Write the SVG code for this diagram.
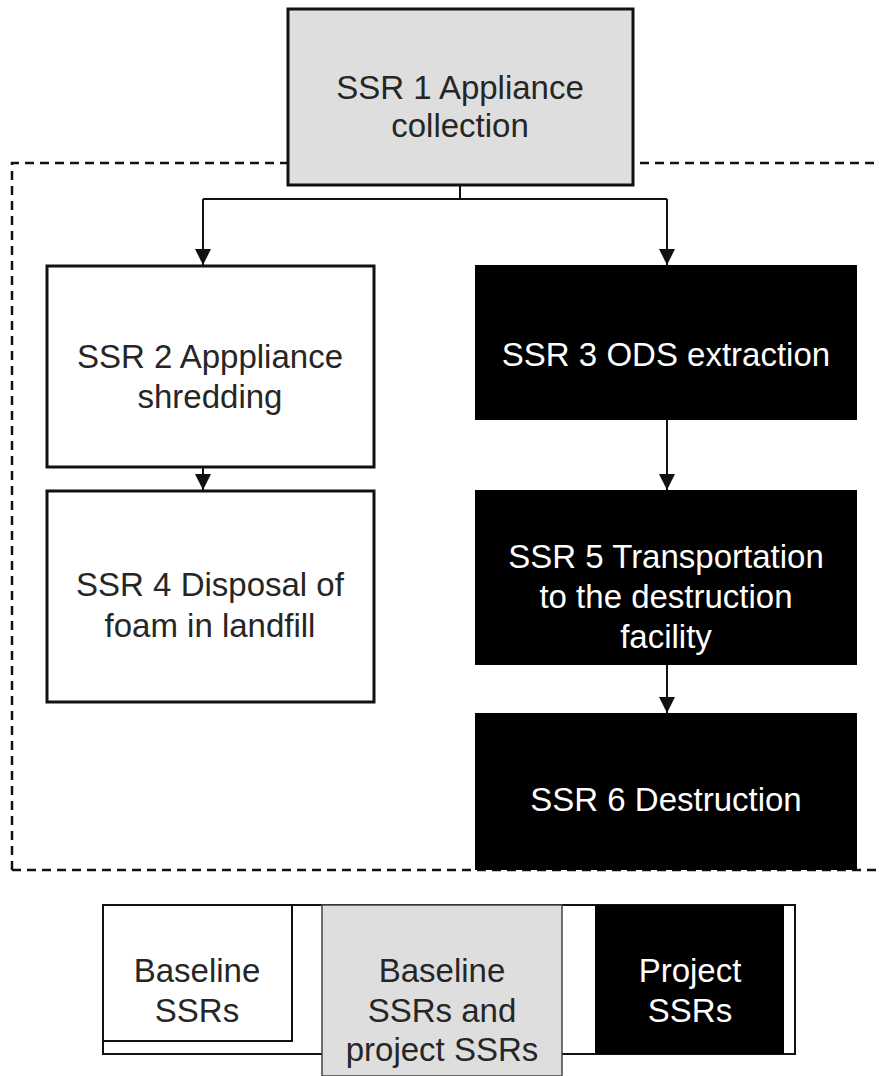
<svg xmlns="http://www.w3.org/2000/svg" width="879" height="1076" viewBox="0 0 879 1076">
<style>
text{font-family:"Liberation Sans",Arial,sans-serif;font-size:33px;text-anchor:middle}
.dk{fill:#262626}
.wt{fill:#ffffff}
.box{stroke:#111;stroke-width:3}
.conn{stroke:#111;stroke-width:2;fill:none}
</style>
<defs>
<marker id="ah" viewBox="0 0 16 16" refX="16" refY="8" markerWidth="16" markerHeight="16" markerUnits="userSpaceOnUse" orient="auto">
<path d="M0,0 L16,8 L0,16 Z" fill="#111"/>
</marker>
</defs>
<rect width="879" height="1076" fill="#fff"/>
<path d="M12,870 L12,163 L879,163 M12,870 L879,870" fill="none" stroke="#111" stroke-width="2.5" stroke-dasharray="9,6"/>
<g id="connectors">
<path class="conn" d="M460,185 L460,199"/>
<path class="conn" d="M203,199 L667,199"/>
<path class="conn" d="M203,199 L203,265" marker-end="url(#ah)"/>
<path class="conn" d="M667,199 L667,265" marker-end="url(#ah)"/>
<path class="conn" d="M203,468 L203,490" marker-end="url(#ah)"/>
<path class="conn" d="M667,420 L667,490" marker-end="url(#ah)"/>
<path class="conn" d="M667,665 L667,713" marker-end="url(#ah)"/>
</g>
<g id="ssr1">
<rect class="box" x="288" y="9" width="345" height="176" fill="#dedede"/>
<text class="dk" x="460" y="99">SSR 1 Appliance</text>
<text class="dk" x="460" y="137">collection</text>
</g>
<g id="ssr2">
<rect class="box" x="47" y="266" width="327" height="201" fill="#fff"/>
<text class="dk" x="210" y="368">SSR 2 Apppliance</text>
<text class="dk" x="210" y="408">shredding</text>
</g>
<g id="ssr3">
<rect x="475" y="265" width="382" height="155" fill="#000"/>
<text class="wt" x="666" y="366">SSR 3 ODS extraction</text>
</g>
<g id="ssr4">
<rect class="box" x="47" y="491" width="327" height="211" fill="#fff"/>
<text class="dk" x="210" y="596">SSR 4 Disposal of</text>
<text class="dk" x="210" y="637">foam in landfill</text>
</g>
<g id="ssr5">
<rect x="475" y="490" width="382" height="175" fill="#000"/>
<text class="wt" x="666" y="568">SSR 5 Transportation</text>
<text class="wt" x="666" y="608">to the destruction</text>
<text class="wt" x="666" y="648">facility</text>
</g>
<g id="ssr6">
<rect x="475" y="713" width="382" height="157" fill="#000"/>
<text class="wt" x="666" y="811">SSR 6 Destruction</text>
</g>
<g id="legend">
<rect x="103" y="905" width="692" height="149" fill="#fff" stroke="#111" stroke-width="2"/>
<rect x="103" y="905" width="189" height="136" fill="#fff" stroke="#111" stroke-width="2"/>
<rect x="322" y="905" width="240" height="171" fill="#dedede" stroke="#444" stroke-width="1.5"/>
<rect x="595" y="905" width="189" height="149" fill="#000"/>
<text class="dk" x="197" y="982" font-size="30">Baseline</text>
<text class="dk" x="197" y="1022" font-size="30">SSRs</text>
<text class="dk" x="442" y="982" font-size="30">Baseline</text>
<text class="dk" x="442" y="1022" font-size="30">SSRs and</text>
<text class="dk" x="442" y="1061" font-size="30">project SSRs</text>
<text class="wt" x="690" y="982" font-size="30">Project</text>
<text class="wt" x="690" y="1022" font-size="30">SSRs</text>
</g>
</svg>
